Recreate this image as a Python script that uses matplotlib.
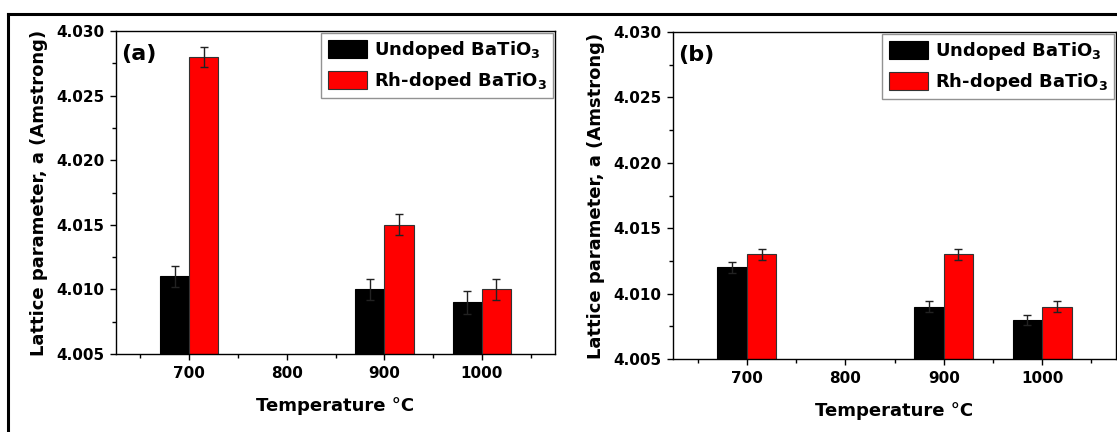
import matplotlib.pyplot as plt
import numpy as np
from matplotlib.lines import Line2D

plt.rcParams['font.family'] = ['DejaVu Sans']
plt.rcParams['font.weight'] = 'bold'
plt.rcParams['mathtext.default'] = 'bf'

temps = [700, 900, 1000]
tick_temps = [700, 800, 900, 1000]

# panel (a)
undoped_a = [4.011, 4.010, 4.009]
undoped_a_err = [0.0008, 0.0008, 0.0009]
rh_a = [4.028, 4.015, 4.010]
rh_a_err = [0.0008, 0.0008, 0.0008]

# panel (b)
undoped_b = [4.012, 4.009, 4.008]
undoped_b_err = [0.0004, 0.0004, 0.0004]
rh_b = [4.013, 4.013, 4.009]
rh_b_err = [0.0004, 0.0004, 0.0004]

W, H = 1117, 432
fig = plt.figure(figsize=(W / 100, H / 100), dpi=100)

# outer frame (top and left edges visible)
fig.add_artist(Line2D([8 / W, 1.01], [1 - 14 / H, 1 - 14 / H], transform=fig.transFigure, color='black', lw=2.2))
fig.add_artist(Line2D([8 / W, 8 / W], [-0.01, 1 - 14 / H], transform=fig.transFigure, color='black', lw=2.2))

axes_pos = [
    [116 / W, 1 - 354 / H, 439 / W, 323 / H],
    [673 / W, 1 - 359 / H, 443 / W, 327 / H],
]
panels = [
    ('(a)', undoped_a, undoped_a_err, rh_a, rh_a_err),
    ('(b)', undoped_b, undoped_b_err, rh_b, rh_b_err),
]

width = 30
for pos, (tag, u, ue, r, re_) in zip(axes_pos, panels):
    ax = fig.add_axes(pos)
    x = np.array(temps)
    ax.bar(x - width / 2, u, width, yerr=ue, color='black', edgecolor='black', lw=0.8,
           error_kw=dict(ecolor='#222222', elinewidth=1, capsize=3, capthick=1),
           label='Undoped BaTiO$_3$', zorder=2)
    ax.bar(x + width / 2, r, width, yerr=re_, color='#ff0000', edgecolor='#333333', lw=0.8,
           error_kw=dict(ecolor='#222222', elinewidth=1, capsize=3, capthick=1),
           label='Rh-doped BaTiO$_3$', zorder=2)
    ax.set_ylim(4.005, 4.030)
    ax.set_xlim(625, 1075)
    yt = np.arange(4.005, 4.0301, 0.005)
    ax.set_yticks(yt)
    ax.set_yticklabels([f'{v:.3f}' for v in yt])
    ax.set_yticks(np.arange(4.0075, 4.030, 0.005), minor=True)
    ax.set_xticks(tick_temps)
    ax.set_xticklabels([str(t) for t in tick_temps])
    ax.set_xticks([650, 750, 850, 950, 1050], minor=True)
    ax.tick_params(which='major', direction='out', length=4.5, width=1, labelsize=11, pad=4)
    ax.tick_params(which='minor', direction='out', length=3, width=1)
    for lab in ax.get_xticklabels() + ax.get_yticklabels():
        lab.set_fontweight('bold')
    for s in ax.spines.values():
        s.set_linewidth(1.0)
    ax.set_xlabel('Temperature °C', fontsize=13, fontweight='bold', labelpad=12)
    ax.set_ylabel('Lattice parameter, a (Amstrong)', fontsize=13, fontweight='bold', labelpad=6)
    ax.text(0.012, 0.93, tag, transform=ax.transAxes, fontsize=16, fontweight='bold', va='center', ha='left')
    leg = ax.legend(loc='upper right', frameon=True, fancybox=False,
                    borderaxespad=0.1, handlelength=2.2, handleheight=1.2, handletextpad=0.35,
                    prop=dict(weight='bold', size=13), borderpad=0.35, labelspacing=0.5)
    leg.get_frame().set_edgecolor('#777777')
    leg.get_frame().set_linewidth(1.0)

fig.savefig('out.png', dpi=100)
